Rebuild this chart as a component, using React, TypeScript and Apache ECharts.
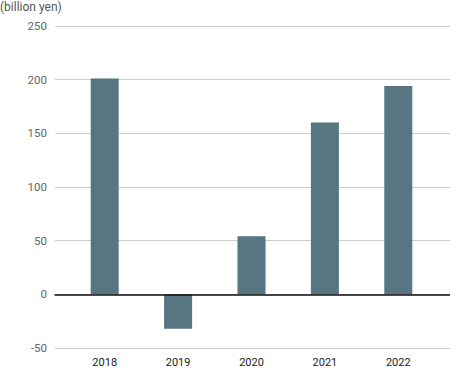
import React, { useEffect, useRef } from "react";
import * as echarts from "echarts";

const years = ["2018", "2019", "2020", "2021", "2022"];
const values = [201, -32, 54, 160, 194];
const yMin = -50;
const yMax = 250;
const yStep = 50;
const unitLabel = "(billion yen)";

export default function App() {
  const ref = useRef<HTMLDivElement>(null);
  useEffect(() => {
    if (!ref.current) return;
    const chart = echarts.init(ref.current, undefined, { renderer: "svg" });
    const font = "Roboto, 'Noto Sans', sans-serif";
    chart.setOption({
      animation: false,
      backgroundColor: "#ffffff",
      title: {
        text: unitLabel,
        left: 0,
        top: 1,
        padding: 0,
        textStyle: { fontSize: 12, fontWeight: "normal", color: "#555", fontFamily: font },
      },
      grid: [
        { left: 55, right: 0, top: 26, bottom: 32 },
        { left: 68, right: 15, top: 26, bottom: 32 },
      ],
      xAxis: [
        {
          gridIndex: 0,
          type: "value",
          min: 0,
          max: 1,
          axisLine: { show: true, onZero: true, lineStyle: { color: "#111", width: 1.5 } },
          axisTick: { show: false },
          axisLabel: { show: false },
          splitLine: { show: false },
          z: 10,
        },
        {
          gridIndex: 1,
          type: "category",
          data: years,
          axisLine: { show: false },
          axisTick: { show: false },
          axisLabel: { color: "#222", fontSize: 11, fontFamily: font, margin: 9 },
          splitLine: { show: false },
          position: "bottom",
        },
      ],
      yAxis: [
        {
          gridIndex: 0,
          type: "value",
          min: yMin,
          max: yMax,
          interval: yStep,
          axisLine: { show: false },
          axisTick: { show: false },
          axisLabel: { color: "#666", fontSize: 11.5, fontFamily: font, margin: 8 },
          splitLine: { show: true, lineStyle: { color: "#cccccc", width: 1 } },
        },
        {
          gridIndex: 1,
          type: "value",
          min: yMin,
          max: yMax,
          interval: yStep,
          show: false,
          splitLine: { show: false },
        },
      ],
      series: [
        {
          type: "bar",
          xAxisIndex: 1,
          yAxisIndex: 1,
          data: values,
          barWidth: 28,
          itemStyle: { color: "#587682" },
          z: 5,
        },
      ],
    });
    return () => chart.dispose();
  }, []);
  return (
    <div
      ref={ref}
      style={{ position: "absolute", left: 0, top: 0, width: 450, height: 380 }}
    />
  );
}
